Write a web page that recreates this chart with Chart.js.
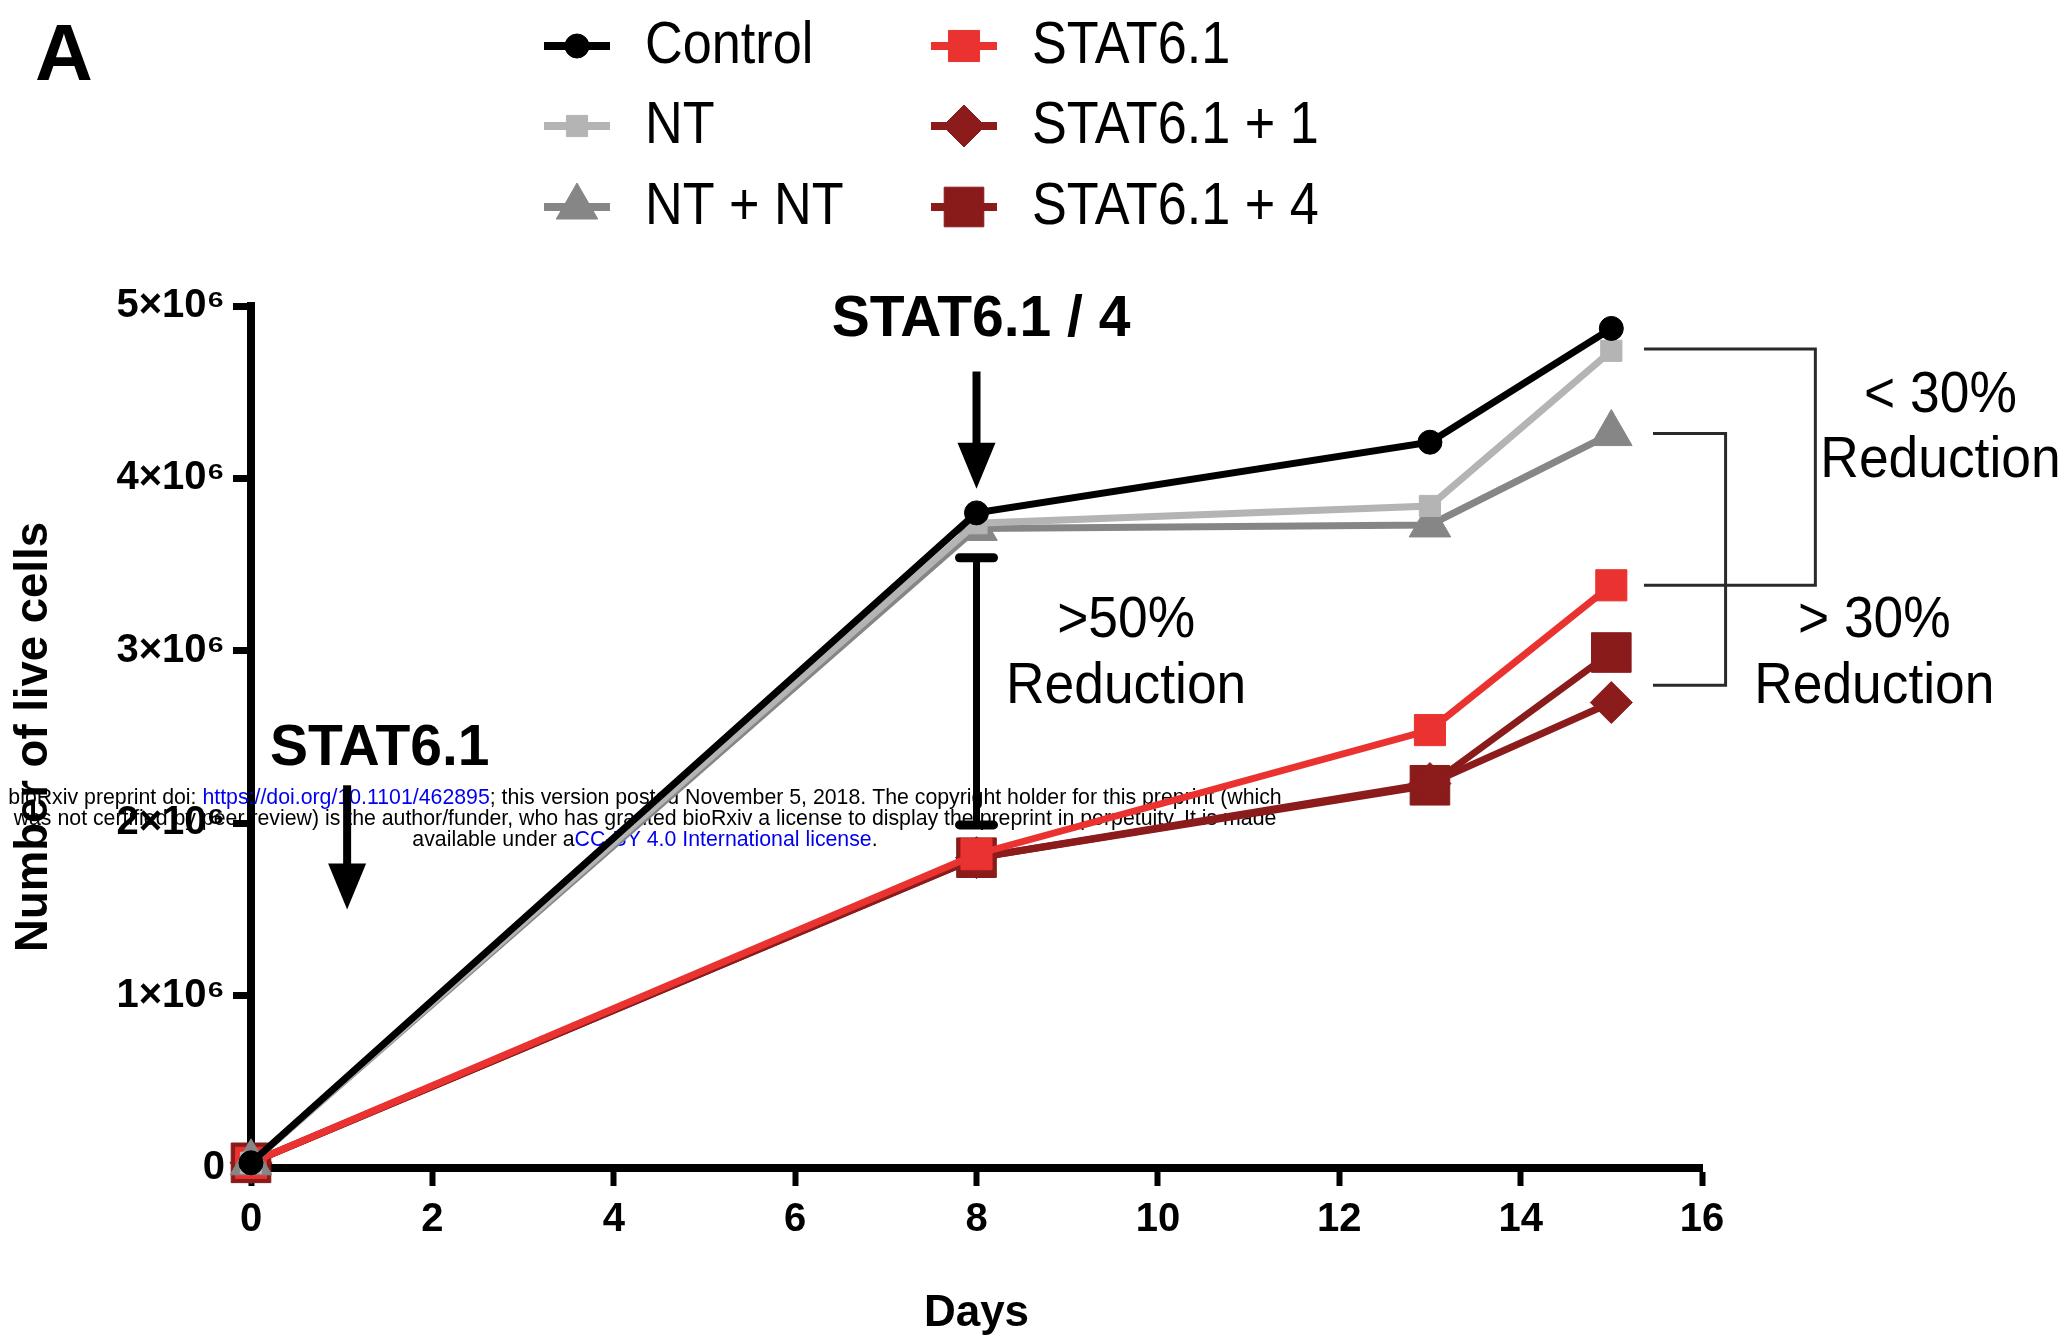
<!DOCTYPE html>
<html>
<head>
<meta charset="utf-8">
<script src="https://cdn.jsdelivr.net/npm/chart.js@4.4.1/dist/chart.umd.min.js"></script>
<style>
  html, body { margin: 0; padding: 0; background: #fff; }
  #wrap { width: 2071px; height: 1341px; position: relative; }
</style>
</head>
<body>
<div id="wrap"><canvas id="cellChart"></canvas></div>
<script>
// days of counting
const days = [0, 8, 13, 15];

// number of live cells per group
const control = [0.03e6, 3.80e6, 4.21e6, 4.87e6];
const nt = [0.03e6, 3.74e6, 3.84e6, 4.74e6];
const ntNt = [0.03e6, 3.71e6, 3.73e6, 4.26e6];
const stat61 = [0.03e6, 1.82e6, 2.54e6, 3.38e6];
const stat61Plus1 = [0.03e6, 1.80e6, 2.23e6, 2.70e6];
const stat61Plus4 = [0.03e6, 1.80e6, 2.22e6, 2.99e6];

const seriesNames = ["Control", "NT", "NT + NT", "STAT6.1", "STAT6.1 + 1", "STAT6.1 + 4"];
const seriesValues = [control, nt, ntNt, stat61, stat61Plus1, stat61Plus4];

const xTickLabels = ["0", "2", "4", "6", "8", "10", "12", "14", "16"];
const yTickLabels = ["0", "1×10⁶", "2×10⁶", "3×10⁶", "4×10⁶", "5×10⁶"];

const colors = ["#000000", "#b4b4b4", "#868686", "#ea3330", "#8c1c1c", "#8a1b1b"];
const markers = ["circle", "rect", "triangle", "rect", "rectRot", "rect"];
const markerSize = [12, 15, 24, 22, 21, 28];

const FONT = "'Liberation Sans', Arial, sans-serif";

function drawText(ctx, text, x, y, font, squeeze, align, color) {
  ctx.save();
  ctx.font = font;
  ctx.fillStyle = color || "#000";
  ctx.textBaseline = "middle";
  ctx.textAlign = align || "center";
  ctx.translate(x, y);
  ctx.scale(squeeze || 1, 1);
  ctx.fillText(text, 0, 0);
  ctx.restore();
}

function drawArrow(ctx, x, yTop, yTip) {
  const headH = 46, headW = 38;
  ctx.save();
  ctx.strokeStyle = "#000";
  ctx.fillStyle = "#000";
  ctx.lineWidth = 8;
  ctx.beginPath();
  ctx.moveTo(x, yTop);
  ctx.lineTo(x, yTip - headH + 4);
  ctx.stroke();
  ctx.beginPath();
  ctx.moveTo(x - headW / 2, yTip - headH);
  ctx.lineTo(x + headW / 2, yTip - headH);
  ctx.lineTo(x, yTip);
  ctx.closePath();
  ctx.fill();
  ctx.restore();
}

function drawBracket(ctx, x1, x2, y1, y2) {
  ctx.save();
  ctx.strokeStyle = "#2a2a2a";
  ctx.lineWidth = 3;
  ctx.beginPath();
  ctx.moveTo(x1, y1);
  ctx.lineTo(x2, y1);
  ctx.lineTo(x2, y2);
  ctx.lineTo(x1, y2);
  ctx.stroke();
  ctx.restore();
}

// preprint notice sits under the plotted lines
const watermarkPlugin = {
  id: "watermark",
  beforeDatasetsDraw(chart) {
    const ctx = chart.ctx;
    const lines = [
      [["bioRxiv preprint doi: ", "#000"], ["https://doi.org/10.1101/462895", "#0000ee"],
       ["; this version posted November 5, 2018. The copyright holder for this preprint (which", "#000"]],
      [["was not certified by peer review) is the author/funder, who has granted bioRxiv a license to display the preprint in perpetuity. It is made", "#000"]],
      [["available under a", "#000"], ["CC-BY 4.0 International license", "#0000ee"], [".", "#000"]]
    ];
    ctx.save();
    ctx.font = "21.3px " + FONT;
    ctx.textBaseline = "middle";
    ctx.textAlign = "left";
    lines.forEach((parts, i) => {
      const total = parts.reduce((s, p) => s + ctx.measureText(p[0]).width, 0);
      let x = 645 - total / 2;
      const y = 798 + i * 21;
      parts.forEach(p => {
        ctx.fillStyle = p[1];
        ctx.fillText(p[0], x, y);
        x += ctx.measureText(p[0]).width;
      });
    });
    ctx.restore();
  }
};

const annotationPlugin = {
  id: "annotations",
  afterDatasetsDraw(chart) {
    const ctx = chart.ctx;
    const xs = chart.scales.x, ys = chart.scales.y;
    const px = v => xs.getPixelForValue(v);
    const py = v => ys.getPixelForValue(v);

    // panel letter
    drawText(ctx, "A", 64, 58, "bold 80px " + FONT);

    // treatment arrows
    drawText(ctx, "STAT6.1", px(1.42), py(2.43e6), "bold 57px " + FONT);
    drawArrow(ctx, px(1.06), py(2.22e6), py(1.50e6));
    drawText(ctx, "STAT6.1 / 4", px(8.05), py(4.92e6), "bold 57px " + FONT);
    drawArrow(ctx, px(8), py(4.62e6), py(3.94e6));

    // >50% reduction bar at day 8
    ctx.save();
    ctx.strokeStyle = "#000";
    ctx.lineWidth = 7;
    ctx.beginPath();
    ctx.moveTo(px(8), py(3.54e6));
    ctx.lineTo(px(8), py(1.99e6));
    ctx.stroke();
    ctx.lineWidth = 9;
    ctx.lineCap = "round";
    [3.54e6, 1.99e6].forEach(v => {
      ctx.beginPath();
      ctx.moveTo(px(8) - 17, py(v));
      ctx.lineTo(px(8) + 17, py(v));
      ctx.stroke();
    });
    ctx.restore();
    drawText(ctx, ">50%", px(9.65), py(3.17e6), "58px " + FONT, 0.92);
    drawText(ctx, "Reduction", px(9.65), py(2.79e6), "58px " + FONT, 0.92);

    // brackets at day 15
    drawBracket(ctx, px(15.36), px(17.25), py(4.75e6), py(3.38e6));
    drawBracket(ctx, px(15.46), px(16.26), py(4.26e6), py(2.80e6));
    drawText(ctx, "< 30%", px(18.63), py(4.48e6), "58px " + FONT, 0.92);
    drawText(ctx, "Reduction", px(18.63), py(4.10e6), "58px " + FONT, 0.92);
    drawText(ctx, "> 30%", px(17.9), py(3.17e6), "58px " + FONT, 0.92);
    drawText(ctx, "Reduction", px(17.9), py(2.79e6), "58px " + FONT, 0.92);
  }
};

// two-column legend built from the datasets
const legendPlugin = {
  id: "gridLegend",
  afterDraw(chart) {
    const ctx = chart.ctx;
    const colX = [577, 964];
    const rowY = [46, 126, 207];
    chart.data.datasets.forEach((ds, i) => {
      const cx = colX[Math.floor(i / 3)];
      const cy = rowY[i % 3];
      ctx.save();
      ctx.strokeStyle = ds.borderColor;
      ctx.lineWidth = 8;
      ctx.beginPath();
      ctx.moveTo(cx - 33, cy);
      ctx.lineTo(cx + 33, cy);
      ctx.stroke();
      ctx.fillStyle = ds.backgroundColor;
      ctx.strokeStyle = ds.borderColor;
      ctx.lineWidth = 1;
      Chart.helpers.drawPoint(ctx, {
        pointStyle: ds.pointStyle,
        radius: ds.pointRadius,
        borderWidth: 1,
        rotation: 0
      }, cx, cy);
      ctx.restore();
      drawText(ctx, ds.label, cx + 68, cy, "60px " + FONT, 0.87, "left");
    });
  }
};

const datasets = seriesNames.map((name, i) => ({
  label: name,
  data: days.map((d, j) => ({ x: d, y: seriesValues[i][j] })),
  borderColor: colors[i],
  backgroundColor: colors[i],
  pointBackgroundColor: colors[i],
  pointBorderColor: colors[i],
  borderWidth: 7,
  pointStyle: markers[i],
  pointRadius: markerSize[i],
  pointBorderWidth: 1,
  tension: 0,
  clip: false
}));

new Chart(document.getElementById("cellChart"), {
  type: "line",
  data: { datasets: datasets },
  options: {
    responsive: true,
    maintainAspectRatio: false,
    animation: false,
    events: [],
    layout: { padding: { left: 0, top: 306, right: 369, bottom: 0 } },
    plugins: {
      legend: { display: false },
      tooltip: { enabled: false }
    },
    scales: {
      x: {
        type: "linear",
        min: 0,
        max: 16,
        afterFit: s => { s.height = 173; },
        border: { display: true, color: "#000", width: 8 },
        grid: {
          drawOnChartArea: false,
          color: "#000",
          tickColor: "#000",
          tickLength: 18,
          tickWidth: 6
        },
        ticks: {
          stepSize: 2,
          color: "#000",
          padding: 10,
          maxRotation: 0,
          font: { family: FONT, size: 40, weight: "bold" },
          callback: (v, i) => xTickLabels[i]
        },
        title: {
          display: true,
          text: "Days",
          color: "#000",
          padding: { top: 0, bottom: 1 },
          font: { family: FONT, size: 44, weight: "bold" }
        }
      },
      y: {
        type: "linear",
        min: 0,
        max: 5e6,
        afterFit: s => { s.width = 251; },
        border: { display: true, color: "#000", width: 8 },
        grid: {
          drawOnChartArea: false,
          color: "#000",
          tickColor: "#000",
          tickLength: 18,
          tickWidth: 7
        },
        ticks: {
          stepSize: 1e6,
          color: "#000",
          padding: 8,
          font: { family: FONT, size: 40, weight: "bold" },
          callback: (v, i) => yTickLabels[i]
        },
        title: {
          display: true,
          text: "Number of live cells",
          color: "#000",
          padding: { top: 7, bottom: 0 },
          font: { family: FONT, size: 45.5, weight: "bold" }
        }
      }
    }
  },
  plugins: [watermarkPlugin, annotationPlugin, legendPlugin]
});
</script>
</body>
</html>
